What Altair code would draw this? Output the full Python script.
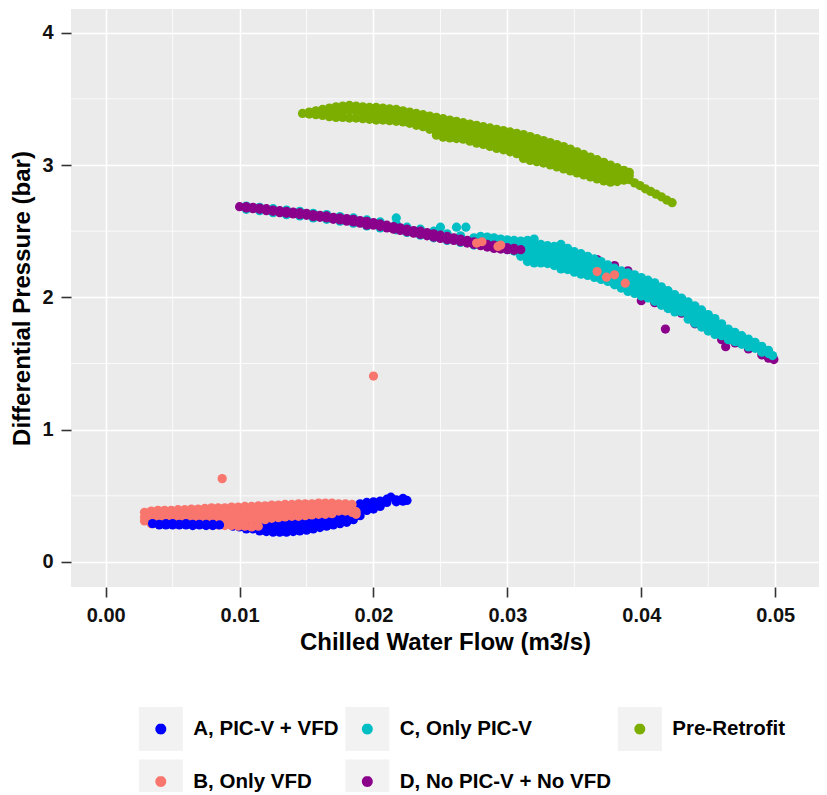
import math
import altair as alt
import pandas as pd

NAMES = ["A, PIC-V + VFD", "B, Only VFD", "C, Only PIC-V", "D, No PIC-V + No VFD", "Pre-Retrofit"]
LEGEND_ORDER = ["A, PIC-V + VFD", "C, Only PIC-V", "Pre-Retrofit", "B, Only VFD", "D, No PIC-V + No VFD"]
LEGEND_COLORS = ["#0000FF", "#00BFC4", "#7CAE00", "#F8766D", "#8B008B"]

# ---- A, PIC-V + VFD (blue), right part drawn first
A_RIGHT_X = [0.0095, 0.0100, 0.0105, 0.0110, 0.0115, 0.0120, 0.0125, 0.0130, 0.0135, 0.0140,
             0.0145, 0.0150, 0.0155, 0.0160, 0.0165, 0.0170, 0.0175, 0.0180, 0.0185, 0.0190,
             0.0195, 0.0200, 0.0205, 0.0210, 0.0213, 0.0217, 0.0222, 0.0225]
A_RIGHT_Y = [[0.29, 0.27], [0.30, 0.265], [0.31, 0.275, 0.25], [0.31, 0.28, 0.25],
             [0.32, 0.285, 0.25, 0.235], [0.32, 0.29, 0.26, 0.23], [0.325, 0.29, 0.255, 0.225],
             [0.33, 0.295, 0.26, 0.225], [0.335, 0.30, 0.265, 0.225], [0.34, 0.305, 0.27, 0.23],
             [0.345, 0.31, 0.275, 0.235], [0.35, 0.315, 0.28, 0.24], [0.355, 0.32, 0.285, 0.25],
             [0.36, 0.325, 0.29, 0.26], [0.365, 0.33, 0.30, 0.27], [0.37, 0.34, 0.31, 0.28],
             [0.375, 0.345, 0.315, 0.29], [0.38, 0.35, 0.32, 0.30], [0.41, 0.37, 0.34, 0.32],
             [0.44, 0.41, 0.38, 0.35], [0.45, 0.42, 0.39], [0.455, 0.425, 0.40],
             [0.46, 0.43, 0.42], [0.475, 0.45], [0.49], [0.47, 0.455], [0.48, 0.46], [0.465]]

# ---- B, Only VFD (salmon), lower cloud
B_X = [0.0029, 0.0034, 0.0039, 0.0044, 0.0049, 0.0054, 0.0059, 0.0064, 0.0069, 0.0074,
       0.0079, 0.0084, 0.0089, 0.0094, 0.0099, 0.0104, 0.0109, 0.0114, 0.0119, 0.0124,
       0.0129, 0.0134, 0.0139, 0.0144, 0.0149, 0.0154, 0.0159, 0.0164, 0.0169, 0.0174,
       0.0179, 0.0184, 0.0187]
B_Y = [[0.375, 0.34, 0.31], [0.385, 0.35, 0.315, 0.29], [0.39, 0.355, 0.32, 0.29],
       [0.39, 0.355, 0.32, 0.29], [0.39, 0.355, 0.32, 0.29], [0.395, 0.36, 0.325, 0.29],
       [0.395, 0.36, 0.325, 0.29], [0.40, 0.365, 0.33, 0.295], [0.40, 0.365, 0.33, 0.29],
       [0.405, 0.37, 0.335, 0.30, 0.285], [0.41, 0.37, 0.335, 0.30, 0.28],
       [0.41, 0.375, 0.34, 0.305, 0.28], [0.41, 0.375, 0.34, 0.305, 0.275],
       [0.415, 0.38, 0.345, 0.31, 0.275], [0.415, 0.38, 0.345, 0.31, 0.27],
       [0.42, 0.385, 0.35, 0.315, 0.27], [0.42, 0.385, 0.35, 0.315, 0.265],
       [0.425, 0.39, 0.355, 0.32, 0.27], [0.425, 0.39, 0.355, 0.32], [0.43, 0.395, 0.36, 0.33],
       [0.43, 0.395, 0.36, 0.335], [0.435, 0.40, 0.365, 0.34], [0.435, 0.40, 0.37, 0.345],
       [0.44, 0.405, 0.37, 0.345], [0.44, 0.405, 0.375, 0.35], [0.44, 0.41, 0.38, 0.355],
       [0.445, 0.41, 0.38, 0.36], [0.445, 0.415, 0.385, 0.36], [0.445, 0.415, 0.385, 0.365],
       [0.44, 0.41, 0.385], [0.44, 0.41, 0.385], [0.435, 0.40, 0.375], [0.38, 0.36]]

# ---- A, PIC-V + VFD (blue), left strip drawn over the salmon cloud
A_LEFT_X = [0.0035, 0.0040, 0.0045, 0.0050, 0.0055, 0.0060, 0.0065, 0.0070, 0.0075, 0.0080, 0.0085]
A_LEFT_Y = [[0.29], [0.285, 0.28], [0.29, 0.28], [0.29, 0.28], [0.285, 0.28], [0.29, 0.28],
            [0.285, 0.275], [0.285, 0.28], [0.285, 0.275], [0.285, 0.275], [0.28]]

# ---- B outliers
B_OUT_X = [0.0087, 0.0200]
B_OUT_Y = [[0.63], [1.405]]

# ---- D, No PIC-V + No VFD (purple), right part (under cyan)
D_RIGHT_X = [0.0310, 0.0320, 0.0330, 0.0340, 0.0350, 0.0360, 0.0367, 0.0370, 0.0380, 0.0390,
             0.0400, 0.0410, 0.0418, 0.0420, 0.0430, 0.0440, 0.0450, 0.0460, 0.0463, 0.0470,
             0.0480, 0.0490, 0.0495, 0.0499]
D_RIGHT_Y = [[2.35, 2.33], [2.33, 2.30], [2.30, 2.27], [2.28, 2.24], [2.26, 2.22], [2.23, 2.19],
             [2.285], [2.21, 2.16], [2.24, 2.18, 2.13], [2.20, 2.15, 2.10], [2.05, 1.975],
             [2.10, 1.96], [1.76], [2.03, 1.92], [1.99, 1.88], [1.93, 1.80], [1.86, 1.75],
             [1.78, 1.68], [1.627], [1.72, 1.655], [1.66, 1.61], [1.60, 1.565], [1.54], [1.53]]

# ---- C, Only PIC-V (cyan), left part (mostly hidden by purple)
C_LEFT_X = [0.0105, 0.0115, 0.0125, 0.0135, 0.0145, 0.0155, 0.0165, 0.0175, 0.0185, 0.0195,
            0.0205, 0.0217, 0.0225, 0.0235, 0.0245, 0.0250, 0.0255, 0.0262, 0.0265, 0.0269,
            0.0275]
C_LEFT_Y = [[2.69, 2.665], [2.68, 2.655], [2.67, 2.64], [2.66, 2.625], [2.65, 2.615],
            [2.635, 2.60], [2.625, 2.59], [2.61, 2.575], [2.60, 2.56], [2.585, 2.54],
            [2.57, 2.525], [2.60, 2.555, 2.51], [2.53, 2.49], [2.515, 2.47], [2.50, 2.45],
            [2.53], [2.48, 2.43], [2.53], [2.465, 2.415], [2.53], [2.45, 2.395]]

# ---- C, Only PIC-V (cyan), main band
C_X = [0.0280, 0.0285, 0.0290, 0.0295, 0.0300, 0.0305, 0.0310, 0.0315, 0.0320, 0.0325,
       0.0330, 0.0335, 0.0340, 0.0345, 0.0350, 0.0355, 0.0360, 0.0365, 0.0370, 0.0375,
       0.0380, 0.0385, 0.0390, 0.0395, 0.0400, 0.0405, 0.0410, 0.0415, 0.0420, 0.0425,
       0.0430, 0.0435, 0.0440, 0.0445, 0.0450, 0.0455, 0.0460, 0.0465, 0.0470, 0.0475,
       0.0480, 0.0485, 0.0490, 0.0495, 0.0498]
C_Y = [[2.46, 2.43, 2.40], [2.455, 2.42, 2.39], [2.45, 2.415, 2.38], [2.44, 2.405, 2.37],
       [2.435, 2.40, 2.36], [2.43, 2.39, 2.35], [2.425, 2.385, 2.345, 2.31],
       [2.43, 2.38, 2.34, 2.30, 2.27], [2.44, 2.40, 2.36, 2.32, 2.28, 2.26],
       [2.40, 2.36, 2.32, 2.285, 2.26], [2.39, 2.35, 2.31, 2.275, 2.255],
       [2.385, 2.345, 2.305, 2.27, 2.24], [2.40, 2.36, 2.32, 2.28, 2.24, 2.215],
       [2.37, 2.33, 2.29, 2.25, 2.21], [2.345, 2.31, 2.27, 2.23, 2.19],
       [2.33, 2.29, 2.255, 2.215, 2.175], [2.31, 2.275, 2.24, 2.20, 2.165],
       [2.29, 2.255, 2.22, 2.185, 2.15], [2.27, 2.235, 2.20, 2.165, 2.135],
       [2.245, 2.21, 2.175, 2.145, 2.12], [2.22, 2.19, 2.155, 2.125, 2.095],
       [2.20, 2.17, 2.135, 2.10, 2.07], [2.185, 2.15, 2.115, 2.08, 2.045],
       [2.17, 2.135, 2.10, 2.06, 2.03], [2.15, 2.115, 2.08, 2.045, 2.01],
       [2.13, 2.095, 2.06, 2.025, 1.995], [2.11, 2.075, 2.04, 2.00, 1.97],
       [2.08, 2.045, 2.01, 1.975, 1.94], [2.05, 2.015, 1.98, 1.945, 1.915],
       [2.02, 1.985, 1.95, 1.915, 1.89], [1.995, 1.96, 1.925, 1.89],
       [1.965, 1.93, 1.895, 1.86, 1.835], [1.935, 1.90, 1.865, 1.83, 1.805],
       [1.905, 1.87, 1.835, 1.80, 1.775], [1.87, 1.835, 1.80, 1.765, 1.745],
       [1.84, 1.805, 1.77, 1.735, 1.72], [1.80, 1.77, 1.74, 1.71], [1.76, 1.73, 1.70, 1.68],
       [1.735, 1.71, 1.685, 1.665], [1.71, 1.685, 1.66, 1.645], [1.685, 1.66, 1.64, 1.625],
       [1.66, 1.635, 1.615], [1.63, 1.605, 1.585], [1.60, 1.575], [1.56]]

# ---- D, No PIC-V + No VFD (purple), left part (over cyan)
D_LEFT_X = [0.0100, 0.0105, 0.0110, 0.0115, 0.0120, 0.0125, 0.0130, 0.0135, 0.0140, 0.0145,
            0.0150, 0.0155, 0.0160, 0.0165, 0.0170, 0.0175, 0.0180, 0.0185, 0.0190, 0.0195,
            0.0200, 0.0205, 0.0210, 0.0215, 0.0220, 0.0225, 0.0230, 0.0235, 0.0240, 0.0245,
            0.0250, 0.0255, 0.0260, 0.0265, 0.0270, 0.0275, 0.0280, 0.0285, 0.0290, 0.0295,
            0.0300, 0.0305, 0.0310]
D_LEFT_Y = [[2.685], [2.685, 2.675], [2.68, 2.67], [2.675, 2.665], [2.67, 2.655], [2.66, 2.65],
            [2.655, 2.64], [2.65, 2.635], [2.645, 2.63], [2.64, 2.625], [2.635, 2.62],
            [2.625, 2.61], [2.62, 2.605], [2.615, 2.60], [2.605, 2.59], [2.60, 2.585],
            [2.595, 2.575], [2.59, 2.57], [2.58, 2.56], [2.575, 2.555, 2.545], [2.565, 2.545],
            [2.555, 2.535], [2.545, 2.525], [2.535, 2.515], [2.525, 2.505], [2.515, 2.495],
            [2.505, 2.485], [2.50, 2.475], [2.49, 2.465], [2.48, 2.455], [2.47, 2.445],
            [2.46, 2.435], [2.45, 2.43], [2.44, 2.42], [2.43, 2.41], [2.42, 2.40], [2.41, 2.39],
            [2.40, 2.38], [2.395, 2.37], [2.385, 2.365], [2.375, 2.36], [2.37, 2.355], [2.36]]

# ---- B points lying on the upper band
B_BAND_X = [0.0277, 0.0281, 0.0293, 0.0295, 0.0367, 0.0374, 0.0380, 0.0388]
B_BAND_Y = [[2.41], [2.42], [2.385], [2.395], [2.195], [2.152], [2.17], [2.107]]

# ---- Pre-Retrofit (green)
PRE_X = [0.0147, 0.0152, 0.0157, 0.0162, 0.0167, 0.0172, 0.0177, 0.0182, 0.0187, 0.0192,
         0.0197, 0.0202, 0.0207, 0.0212, 0.0217, 0.0222, 0.0227, 0.0232, 0.0237, 0.0242,
         0.0247, 0.0252, 0.0257, 0.0262, 0.0267, 0.0272, 0.0277, 0.0282, 0.0287, 0.0292,
         0.0297, 0.0302, 0.0307, 0.0312, 0.0317, 0.0322, 0.0327, 0.0332, 0.0337, 0.0342,
         0.0347, 0.0352, 0.0357, 0.0362, 0.0367, 0.0372, 0.0377, 0.0382, 0.0387, 0.0391,
         0.0395, 0.0399, 0.0403, 0.0407, 0.0411, 0.0415, 0.0419, 0.0423]
PRE_Y = [[3.39], [3.40, 3.385], [3.41, 3.38], [3.42, 3.385, 3.375], [3.43, 3.39, 3.365],
         [3.44, 3.40, 3.36], [3.445, 3.405, 3.36], [3.45, 3.41, 3.355], [3.445, 3.405, 3.355],
         [3.44, 3.40, 3.35], [3.435, 3.395, 3.345], [3.435, 3.39, 3.34], [3.43, 3.385, 3.34],
         [3.425, 3.38, 3.335], [3.42, 3.375, 3.33], [3.41, 3.37, 3.325], [3.40, 3.36, 3.315],
         [3.39, 3.355, 3.315, 3.30], [3.38, 3.345, 3.305, 3.29], [3.37, 3.335, 3.295, 3.27],
         [3.36, 3.32, 3.285, 3.25, 3.225], [3.35, 3.31, 3.275, 3.24, 3.21],
         [3.34, 3.30, 3.265, 3.235, 3.205], [3.33, 3.29, 3.26, 3.23, 3.20],
         [3.32, 3.28, 3.25, 3.22, 3.195], [3.31, 3.27, 3.24, 3.21, 3.18],
         [3.30, 3.26, 3.23, 3.20, 3.165], [3.29, 3.25, 3.22, 3.19, 3.155],
         [3.28, 3.24, 3.21, 3.175, 3.14], [3.27, 3.23, 3.195, 3.16, 3.125],
         [3.26, 3.22, 3.185, 3.15, 3.115], [3.25, 3.21, 3.175, 3.14, 3.10],
         [3.24, 3.20, 3.16, 3.12, 3.085], [3.23, 3.19, 3.15, 3.11, 3.075, 3.05],
         [3.215, 3.175, 3.14, 3.10, 3.065, 3.035], [3.20, 3.16, 3.125, 3.09, 3.055, 3.025],
         [3.185, 3.145, 3.11, 3.075, 3.045, 3.015], [3.17, 3.13, 3.095, 3.06, 3.03, 3.00],
         [3.155, 3.115, 3.08, 3.045, 3.015, 2.985], [3.14, 3.10, 3.065, 3.03, 3.00, 2.97],
         [3.12, 3.085, 3.05, 3.015, 2.985, 2.955], [3.10, 3.065, 3.035, 3.00, 2.97, 2.94],
         [3.08, 3.045, 3.015, 2.985, 2.955, 2.925], [3.06, 3.03, 3.00, 2.97, 2.94, 2.91],
         [3.04, 3.01, 2.98, 2.95, 2.92, 2.895], [3.02, 2.99, 2.96, 2.935, 2.905, 2.88],
         [3.00, 2.97, 2.94, 2.915, 2.89, 2.87], [2.98, 2.95, 2.925, 2.90, 2.875],
         [2.96, 2.93, 2.91, 2.885], [2.945, 2.92, 2.89], [2.865], [2.845], [2.82], [2.80],
         [2.78], [2.76], [2.735], [2.715]]

X_TICKS = [0.0, 0.01, 0.02, 0.03, 0.04, 0.05]
Y_TICKS = [0, 1, 2, 3, 4]
X_MINOR = [0.005, 0.015, 0.025, 0.035, 0.045]
Y_MINOR = [0.5, 1.5, 2.5, 3.5]

groups = [
    (NAMES[0], A_RIGHT_X, A_RIGHT_Y),
    (NAMES[1], B_X, B_Y),
    (NAMES[0], A_LEFT_X, A_LEFT_Y),
    (NAMES[1], B_OUT_X, B_OUT_Y),
    (NAMES[3], D_RIGHT_X, D_RIGHT_Y),
    (NAMES[2], C_LEFT_X, C_LEFT_Y),
    (NAMES[2], C_X, C_Y),
    (NAMES[3], D_LEFT_X, D_LEFT_Y),
    (NAMES[1], B_BAND_X, B_BAND_Y),
    (NAMES[4], PRE_X, PRE_Y),
]
rows = []
for name, xs, yss in groups:
    for xv, ys in zip(xs, yss):
        for yv in ys:
            rows.append({"flow": xv, "dp": yv, "series": name})
df = pd.DataFrame(rows)

# Legend key glyph: light-grey 44 px square key (painted by the symbol stroke, width 4)
# around a coloured dot (the symbol fill). Path in the unit square [-1, 1].
HALF = 22.0
def n(v):
    return f"{v / HALF:.4f}"
def ring(r, k=24):
    pts = [(r * math.cos(2 * math.pi * i / k), r * math.sin(2 * math.pi * i / k)) for i in range(k)]
    return "M" + " L".join(f"{n(px)},{n(py)}" for px, py in pts) + " Z"
key_path = " ".join(ring(r) for r in (7.5, 10.5, 12.5))
for yy in (-20, -16, -12, 12, 16, 20):
    key_path += f" M-1,{n(yy)} L1,{n(yy)}"
for xx in (-20, -16, -12, 12, 16, 20):
    key_path += f" M{n(xx)},{n(-11)} L{n(xx)},{n(11)}"

FONT = "Liberation Sans"
x_scale = alt.Scale(domain=[-0.00259, 0.05327], nice=False, zero=False)
y_scale = alt.Scale(domain=[-0.189, 4.179], nice=False, zero=False)

x_axis = alt.Axis(values=X_TICKS, format=".2f", title="Chilled Water Flow (m3/s)",
                  labelFont=FONT, labelFontSize=20, labelFontWeight="bold", labelColor="#111111",
                  titleFont=FONT, titleFontSize=24, titleFontWeight="bold", titleColor="#000000",
                  tickSize=10, tickWidth=1.6, tickColor="#333333", domain=False,
                  grid=True, gridColor="#FFFFFF", gridWidth=1.6, labelPadding=8, titlePadding=5)
y_axis = alt.Axis(values=Y_TICKS, format="d", title="Differential Pressure (bar)",
                  labelFont=FONT, labelFontSize=20, labelFontWeight="bold", labelColor="#111111",
                  titleFont=FONT, titleFontSize=24, titleFontWeight="bold", titleColor="#000000",
                  tickSize=10, tickWidth=1.6, tickColor="#333333", domain=False,
                  grid=True, gridColor="#FFFFFF", gridWidth=1.6, labelPadding=8, titlePadding=7)

minor_x = alt.Chart(pd.DataFrame({"v": X_MINOR})).mark_rule(color="#FFFFFF", strokeWidth=0.8).encode(
    x=alt.X("v:Q", scale=x_scale, axis=x_axis))
minor_y = alt.Chart(pd.DataFrame({"v": Y_MINOR})).mark_rule(color="#FFFFFF", strokeWidth=0.8).encode(
    y=alt.Y("v:Q", scale=y_scale, axis=y_axis))

points = alt.Chart(df).mark_circle(size=85, opacity=1).encode(
    x=alt.X("flow:Q", scale=x_scale, axis=x_axis),
    y=alt.Y("dp:Q", scale=y_scale, axis=y_axis),
    color=alt.Color("series:N", scale=alt.Scale(domain=LEGEND_ORDER, range=LEGEND_COLORS),
                    legend=alt.Legend(title=None, orient="none", legendX=65.8, legendY=695.5,
                                      columns=3, direction="horizontal", symbolType=key_path,
                                      symbolSize=1936, symbolStrokeWidth=4,
                                      symbolStrokeColor="#F2F2F2", symbolOpacity=1,
                                      labelFont=FONT, labelFontSize=20.5, labelFontWeight="bold",
                                      labelColor="#000000", labelOffset=8.5, columnPadding=-1.5,
                                      labelLimit=500, rowPadding=-9)),
)

chart = alt.layer(minor_x, minor_y, points).properties(
    width=748, height=578,
    autosize=alt.AutoSizeParams(type="none"),
    padding={"left": 63, "top": 1, "right": 0, "bottom": 205},
    background="#FFFFFF",
).configure_view(fill="#EBEBEB", strokeWidth=0)

chart.save("out.html", embed_options={"renderer": "svg", "actions": False})
